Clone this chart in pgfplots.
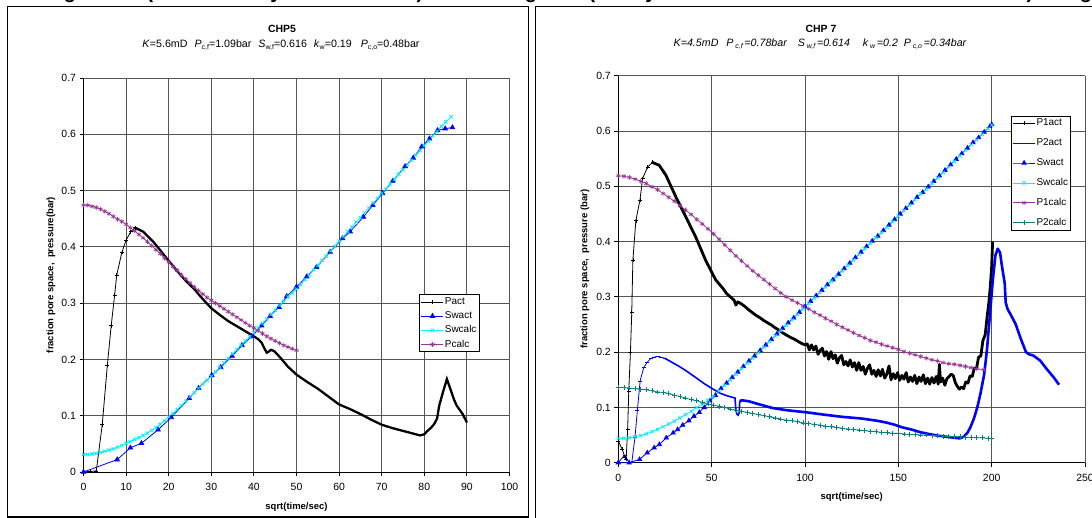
\documentclass[border=0pt]{standalone}
\usepackage{fontspec}
\setmainfont{Liberation Sans}
\usepackage{pgfplots}
\pgfplotsset{compat=1.18}
\usepackage{pgfplotstable}

\definecolor{swblue}{RGB}{0,0,255}
\definecolor{swcyan}{RGB}{0,240,255}
\definecolor{pcpurple}{RGB}{153,51,153}
\definecolor{pteal}{RGB}{0,128,128}
\definecolor{gridgray}{RGB}{85,85,85}

\newcommand\fs[1]{\fontsize{#1}{#1}\selectfont}
\newcommand\sub[1]{\raisebox{-0.35ex}{\fs{7}#1}}

\pgfplotsset{
  chp/.style={
    scale only axis, clip=false,
    axis x line*=bottom, axis y line*=left,
    axis line style={-, black, line width=0.9bp},
    ymin=0, ymax=0.7, ytick={0,0.1,0.2,0.3,0.4,0.5,0.6,0.7},
    grid=major, major grid style={gridgray, line width=0.9bp},
    tick align=outside, major tick length=4bp,
    tick style={black, line width=0.9bp},
    /pgf/number format/assume math mode=true,
    ticklabel style={font=\fs{10.5}},
    xticklabel style={yshift=-4bp},
    yticklabel style={/pgf/number format/fixed, /pgf/number format/precision=1},
    xlabel style={font=\bfseries\fs{9.5}, anchor=center},
    ylabel style={font=\bfseries\fs{9.5}, anchor=center},
    legend style={font=\fs{10}, draw=black, line width=0.8bp, fill=white,
      inner sep=1.5bp, anchor=north west, cells={anchor=west},
      nodes={inner sep=1bp, text height=7.3bp, text depth=2.2bp}},
    legend image code/.code={\draw[mark repeat=2,mark phase=2]
      plot coordinates {(0bp,0bp) (11bp,0bp) (22bp,0bp)};},
  },
}

\begin{document}

% ---------------- CHP5 ----------------
\pgfplotstableread{
x y
0 0
1.5 0.001
3 0.002
4.4 0.084
5.6 0.190
6.5 0.260
7.3 0.314
7.8 0.350
9 0.390
10 0.412
11.1 0.427
12.1 0.434
}\pactA
\pgfplotstableread{
x y
12.1 0.434
14 0.427
16.4 0.409
18 0.394
19.9 0.376
22 0.357
24.2 0.338
26 0.325
27.1 0.315
28.5 0.303
30 0.291
32 0.279
34 0.268
36 0.259
38 0.250
40 0.241
41 0.236
41.8 0.230
42.3 0.222
43 0.212
43.5 0.214
44 0.217
44.7 0.215
46 0.205
48 0.187
50 0.173
52.5 0.160
55 0.148
57.5 0.134
60 0.120
62.5 0.112
65 0.103
67.5 0.093
70 0.084
72.5 0.078
75 0.073
77.5 0.068
79 0.065
80 0.067
80.6 0.072
81.5 0.078
82.3 0.085
83 0.095
83.5 0.118
84.5 0.145
85.3 0.165
86 0.150
87 0.128
87.6 0.118
89 0.103
90 0.088
}\pactB
\pgfplotstableread{
x y
0 0
7.9 0.022
11 0.043
13.6 0.051
17.5 0.075
20.6 0.097
24.8 0.131
27 0.149
30.1 0.172
32.2 0.186
34.9 0.206
37.2 0.225
39.5 0.241
41.8 0.260
43.8 0.277
45.9 0.293
47.7 0.312
50 0.329
52.4 0.347
54.7 0.364
57.9 0.391
60.8 0.415
62.6 0.427
65.7 0.453
67.9 0.474
70.2 0.495
72.6 0.517
75.5 0.543
77.4 0.558
79.4 0.578
81.2 0.592
83.1 0.607
84.9 0.610
86.6 0.612
}\swactA
\pgfplotstableread{
x y
0 0.031
1 0.031
2 0.032
3 0.033
4 0.035
5 0.037
6 0.039
7 0.041
8 0.044
9 0.047
10 0.051
11 0.054
12 0.058
13 0.061
14 0.065
15 0.069
16 0.074
17 0.079
18 0.085
19 0.091
20 0.098
21 0.104
22 0.111
23 0.118
24 0.126
25 0.134
26 0.141
27 0.149
28 0.156
29 0.163
30 0.170
31 0.178
32 0.186
33 0.194
34 0.202
35 0.210
36 0.218
37 0.225
38 0.233
39 0.240
40 0.248
41 0.256
42 0.264
43 0.272
44 0.280
45 0.288
46 0.296
47 0.303
48 0.311
49 0.318
50 0.325
51 0.333
52 0.342
53 0.350
54 0.359
55 0.367
56 0.376
57 0.384
58 0.393
59 0.401
60 0.410
61 0.418
62 0.427
63 0.435
64 0.444
65 0.452
66 0.461
67 0.469
68 0.478
69 0.486
70 0.495
71 0.503
72 0.512
73 0.520
74 0.529
75 0.537
76 0.546
77 0.554
78 0.563
79 0.571
80 0.580
81 0.588
82 0.597
83 0.605
84 0.614
85 0.622
86.3 0.631
}\swcalcA
\pgfplotstableread{
x y
0 0.474
1 0.474
2 0.472
3 0.470
4 0.467
5 0.463
6 0.459
7 0.454
8 0.449
9 0.445
10 0.440
11 0.434
12 0.428
13 0.422
14 0.416
15 0.409
16 0.402
17 0.395
18 0.388
19 0.380
20 0.373
21 0.365
22 0.358
23 0.350
24 0.343
25 0.336
26 0.329
27 0.322
28 0.316
29 0.310
30 0.305
31 0.300
32 0.295
33 0.290
34 0.285
35 0.280
36 0.275
37 0.270
38 0.265
39 0.260
40 0.256
41 0.251
42 0.246
43 0.241
44 0.237
45 0.233
46 0.229
47 0.225
48 0.222
49 0.219
50 0.216
}\pcalcA

% ---------------- CHP 7 ----------------
\pgfplotstableread{
x y
0 0.039
2 0.025
3.5 0.010
4.2 0.007
5 0.060
5.6 0.130
6.5 0.200
7.2 0.272
7.8 0.366
9.4 0.438
11.6 0.475
13 0.514
15.7 0.535
18.4 0.543
}\ponactB
\pgfplotstableread{
x y
18.4 0.543
21.9 0.538
25.5 0.520
30.8 0.481
36.1 0.445
41.5 0.408
46.8 0.366
52.1 0.331
56.1 0.315
58 0.306
60 0.300
62 0.294
63 0.285
64 0.291
66 0.287
68 0.282
70 0.276
72 0.271
74 0.266
76 0.262
78 0.257
80 0.253
82 0.249
84 0.244
86 0.240
88 0.235
90 0.231
92 0.227
94 0.224
96 0.220
98 0.216
100 0.213
101.2 0.215
102.3 0.204
103.5 0.213
104.6 0.204
105.8 0.211
107 0.196
108.1 0.203
109.3 0.207
110.4 0.193
111.6 0.201
112.7 0.187
113.9 0.201
115 0.188
116.2 0.195
117.3 0.180
118.5 0.190
119.6 0.194
120.8 0.177
121.9 0.183
123.1 0.175
124.2 0.186
125.4 0.173
126.5 0.181
127.7 0.167
128.8 0.181
130 0.167
131.2 0.174
132.3 0.160
133.5 0.171
134.6 0.177
135.8 0.160
136.9 0.167
138.1 0.156
139.2 0.168
140.4 0.157
141.5 0.169
142.7 0.153
143.8 0.160
145 0.175
146.1 0.150
147.3 0.161
148.4 0.152
149.6 0.163
150.7 0.149
151.9 0.158
153 0.151
154.2 0.163
155.3 0.146
156.5 0.155
157.6 0.147
158.8 0.158
159.9 0.143
161.1 0.155
162.2 0.147
163.4 0.159
164.5 0.143
165.7 0.153
166.8 0.142
168 0.154
169.1 0.144
170.3 0.156
171.4 0.142
172 0.178
172.6 0.146
173.7 0.153
174.9 0.140
176 0.152
177.2 0.156
178.3 0.160
179.4 0.158
180.5 0.145
181.6 0.138
182.7 0.133
183.8 0.137
185 0.134
186.1 0.146
187.3 0.144
188.4 0.157
189.6 0.156
190.7 0.171
191.9 0.171
193 0.191
194.2 0.193
195.3 0.221
196.5 0.231
197.6 0.265
198.5 0.290
199.3 0.320
200 0.355
200.5 0.400
}\ponactC
\pgfplotstableread{
x y
0 0
3.4 0.014
5.8 0
7.2 0
8.9 0.045
10.2 0.094
11.7 0.148
13.6 0.172
15.5 0.182
17.3 0.188
19 0.191
21 0.192
23 0.191
24.8 0.189
}\ptwactB
\pgfplotstableread{
x y
24.8 0.189
28 0.183
32.2 0.175
36 0.167
41.5 0.154
46 0.143
50.8 0.133
55 0.125
58.3 0.121
62.5 0.117
63 0.095
63.5 0.088
64.2 0.086
64.8 0.091
65 0.110
}\ptwactC
\pgfplotstableread{
x y
65 0.110
66 0.113
70 0.111
75 0.106
82.5 0.099
90 0.095
101 0.091
110 0.087
119.7 0.083
130 0.080
138.4 0.076
143 0.073
147.7 0.069
152 0.064
157 0.060
162 0.055
166.3 0.052
171 0.049
175.6 0.047
180 0.045
183 0.044
185 0.047
187 0.054
188.6 0.064
190.5 0.080
192.3 0.100
194 0.125
196 0.160
197.5 0.205
198.8 0.257
200.6 0.330
202 0.375
203.2 0.387
204.5 0.380
205.3 0.360
207 0.324
207.5 0.290
208.5 0.278
210 0.269
212.8 0.251
215.6 0.224
218.4 0.200
220 0.196
222.2 0.194
225.9 0.185
229.6 0.169
233.3 0.154
236.1 0.141
}\ptwactD
\pgfplotstableread{
x y
0 0
5.8 0
11.4 0.006
15.5 0.018
19.2 0.027
22 0.033
25.7 0.045
29.4 0.054
31.8 0.060
34.5 0.068
37.8 0.076
40.5 0.084
43.4 0.091
46 0.100
49 0.112
52 0.122
55 0.134
58 0.144
61 0.154
64 0.164
67 0.174
70 0.184
73 0.193
76 0.203
79 0.213
82 0.223
85 0.233
88 0.243
91 0.253
94 0.262
97 0.272
100 0.282
103 0.292
106 0.302
109 0.312
112 0.322
115 0.331
118 0.341
121 0.351
124 0.361
127 0.371
130 0.381
133 0.391
136 0.401
139 0.410
142 0.420
145 0.430
148 0.440
151 0.450
154 0.460
157 0.470
160 0.480
163 0.489
166 0.499
169 0.509
172 0.519
175 0.529
178 0.539
181 0.549
184 0.559
187 0.569
190 0.579
193 0.588
196 0.598
199 0.608
200 0.612
}\swactB
\pgfplotstableread{
x y
0 0.044
3 0.044
6 0.045
9 0.047
12 0.049
15 0.052
18 0.056
21 0.060
24 0.065
27 0.070
30 0.075
33 0.081
36 0.087
39 0.093
42 0.100
45 0.106
48 0.113
51 0.120
54 0.130
57 0.140
60 0.150
63 0.160
66 0.170
69 0.180
72 0.189
75 0.199
78 0.209
81 0.219
84 0.229
87 0.239
90 0.249
93 0.258
96 0.268
99 0.278
102 0.288
105 0.298
108 0.308
111 0.318
114 0.328
117 0.337
120 0.347
123 0.357
126 0.367
129 0.377
132 0.387
135 0.397
138 0.407
141 0.416
144 0.426
147 0.436
150 0.446
153 0.456
156 0.466
159 0.476
162 0.486
165 0.495
168 0.505
171 0.515
174 0.525
177 0.535
180 0.545
183 0.555
186 0.565
189 0.575
192 0.584
195 0.594
198 0.604
200 0.611
}\swcalcB
\pgfplotstableread{
x y
0 0.519
3 0.518
6 0.516
9 0.513
12 0.509
15 0.505
18 0.499
21 0.494
24 0.487
27 0.480
30 0.473
33 0.465
36 0.457
39 0.449
42 0.440
45 0.432
48 0.423
51 0.414
54 0.404
57 0.394
60 0.384
63 0.374
66 0.365
69 0.356
72 0.347
75 0.339
78 0.331
81 0.323
84 0.315
87 0.307
90 0.300
93 0.294
96 0.289
99 0.284
102 0.278
105 0.272
108 0.267
111 0.261
114 0.256
117 0.250
120 0.245
123 0.240
126 0.235
129 0.230
132 0.226
135 0.221
138 0.218
141 0.214
144 0.211
147 0.208
150 0.205
153 0.201
156 0.198
159 0.195
162 0.192
165 0.189
168 0.186
171 0.184
174 0.181
177 0.179
180 0.178
183 0.176
186 0.174
189 0.172
192 0.170
196 0.168
}\ponecalcB
\pgfplotstableread{
x y
0 0.136
3 0.136
6 0.135
9 0.134
12 0.133
15 0.132
18 0.130
21 0.128
24 0.127
27 0.125
30 0.122
33 0.120
36 0.117
39 0.114
42 0.112
45 0.109
48 0.106
51 0.104
54 0.102
57 0.100
60 0.097
63 0.095
66 0.093
69 0.091
72 0.089
75 0.087
78 0.085
81 0.083
84 0.081
87 0.079
90 0.077
93 0.076
96 0.074
99 0.072
102 0.071
105 0.069
108 0.068
111 0.066
114 0.065
117 0.064
120 0.062
123 0.061
126 0.060
129 0.059
132 0.058
135 0.057
138 0.056
141 0.055
144 0.054
147 0.053
150 0.053
153 0.052
156 0.051
159 0.051
162 0.050
165 0.050
168 0.049
171 0.049
174 0.048
177 0.048
180 0.047
183 0.047
186 0.046
189 0.046
192 0.045
195 0.045
198 0.044
200 0.044
}\ptwocalcB

\begin{tikzpicture}[x=1bp,y=1bp]
\useasboundingbox (0,0) rectangle (1092,518);
\clip (0,0) rectangle (1092,518);

% caption line above the charts, only its lower edge in view
\begin{scope}[every node/.style={anchor=base, font=\bfseries\fs{20}, inner sep=0pt}]
  \node at (70,519.5) {g};
  \node at (150,519.5) {(};
  \node at (276,519.5) {y};
  \node at (420,519.5) {)};
  \node at (531,519.5) {g};
  \node at (592,519.5) {(};
  \node at (651,519.5) {y};
  \node at (1030,519.5) {)};
  \node at (1086,519.5) {g};
\end{scope}

% chart frames
\draw[line width=1.2bp] (7.3,1) rectangle (528.3,511.3);
\draw[line width=1.2bp] (535.7,-5) -- (535.7,511.3) -- (1100,511.3);

% titles
\node[anchor=base, font=\bfseries\fs{10.5}] at (282,485) {CHP5};
\node[anchor=base, font=\fs{10.7}] at (281,470.5)
  {\textit{K}=5.6mD\hspace{7bp}\textit{P}\sub{c,f}=1.09bar\hspace{7bp}\textit{S}\sub{w,f}=0.616\hspace{7bp}\textit{k}\sub{w}=0.19\hspace{9bp}\textit{P}\sub{c,o}=0.48bar};
\node[anchor=base, font=\bfseries\fs{10.5}] at (821,485.7) {CHP 7};
\node[anchor=base, font=\itshape\fs{10.7}] at (820,471.3)
  {K=4.5mD\hspace{8bp}P\,\sub{c,f}\,=0.78bar\hspace{11bp}S\,\sub{w,f}\,=0.614\hspace{13bp}k\,\sub{w}\,=0.2\hspace{6bp}P\,\sub{c,o}\,=0.34bar};

% ---- left chart ----
\begin{axis}[chp,
  at={(83.5bp,46bp)}, anchor=south west,
  width=426bp, height=394bp,
  xmin=0, xmax=100, xtick={0,10,20,30,40,50,60,70,80,90,100},
  xlabel={sqrt(time/sec)},
  xlabel style={at={(axis description cs:0.5,-0.088)}},
  ylabel={fraction pore space,\ \ pressure(bar)},
  ylabel style={at={(axis description cs:-0.0763,0.5)}},
  legend style={at={(axis description cs:0.788,0.451)}, row sep=2.7bp},
]
\addplot[black, line width=0.8bp, mark=+, mark size=2bp, mark options={line width=0.6bp}] table {\pactA};
\addlegendentry{Pact}
\addplot[black, line width=2.3bp, forget plot] table {\pactB};
\addplot[swblue, line width=0.8bp, mark=triangle*, mark size=2.6bp] table {\swactA};
\addlegendentry{Swact}
\addplot[swcyan, line width=0.8bp, mark=x, mark size=2.3bp, mark options={line width=0.8bp}] table {\swcalcA};
\addlegendentry{Swcalc}
\addplot[pcpurple, line width=0.8bp, mark=asterisk, mark size=2.3bp, mark options={line width=0.7bp}] table {\pcalcA};
\addlegendentry{Pcalc}
\end{axis}

% ---- right chart ----
\begin{axis}[chp,
  at={(618.3bp,55.3bp)}, anchor=south west,
  width=466.7bp, height=387bp,
  xmin=0, xmax=250, xtick={0,50,100,150,200,250},
  xlabel={sqrt(time/sec)},
  xlabel style={at={(axis description cs:0.5,-0.0894)}},
  ylabel={fraction pore space,\ \ pressure (bar)},
  ylabel style={at={(axis description cs:-0.0714,0.5)}},
  legend style={at={(axis description cs:0.841,0.897)}, row sep=8.4bp},
]
\addplot[black, line width=0.8bp, mark=+, mark size=2bp, mark options={line width=0.6bp}] table {\ponactB};
\addlegendentry{P1act}
\addplot[black, line width=2.8bp, line join=round, forget plot] table {\ponactC};
\addplot[swblue, line width=0.8bp, mark=-, mark size=2bp, mark options={line width=0.7bp}] table {\ptwactB};
\addlegendentry{P2act}
\addplot[swblue, line width=1.6bp, forget plot] table {\ptwactC};
\addplot[swblue, line width=2.6bp, line join=round, forget plot] table {\ptwactD};
\addplot[swblue, line width=0.8bp, mark=triangle*, mark size=2.4bp] table {\swactB};
\addlegendentry{Swact}
\addplot[swcyan, line width=0.8bp, mark=x, mark size=2.3bp, mark options={line width=0.8bp}] table {\swcalcB};
\addlegendentry{Swcalc}
\addplot[pcpurple, line width=0.8bp, mark=asterisk, mark size=2.3bp, mark options={line width=0.7bp}] table {\ponecalcB};
\addlegendentry{P1calc}
\addplot[pteal, line width=0.8bp, mark=+, mark size=2.4bp, mark options={line width=0.7bp}] table {\ptwocalcB};
\addlegendentry{P2calc}
\end{axis}
\end{tikzpicture}
\end{document}
